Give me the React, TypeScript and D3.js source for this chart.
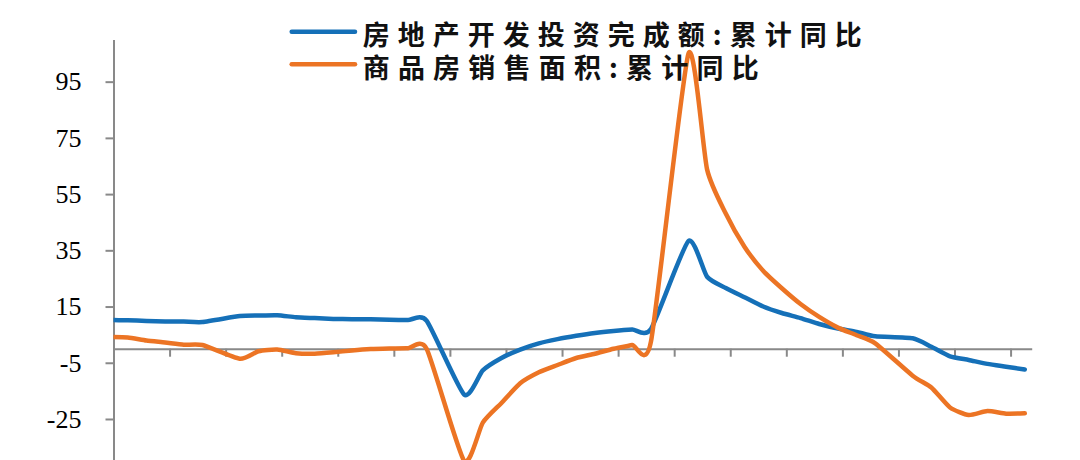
import React, { useEffect, useRef } from 'react';
import * as d3 from 'd3';

// monthly cumulative data (Jan is merged into Feb, so no January points)
const months = [
  '2018-07', '2018-08', '2018-09', '2018-10', '2018-11', '2018-12',
  '2019-02', '2019-03', '2019-04', '2019-05', '2019-06', '2019-07', '2019-08', '2019-09', '2019-10', '2019-11', '2019-12',
  '2020-02', '2020-03', '2020-04', '2020-05', '2020-06', '2020-07', '2020-08', '2020-09', '2020-10', '2020-11', '2020-12',
  '2021-02', '2021-03', '2021-04', '2021-05', '2021-06', '2021-07', '2021-08', '2021-09', '2021-10', '2021-11', '2021-12',
  '2022-02', '2022-03', '2022-04', '2022-05', '2022-06', '2022-07', '2022-08',
];

const investmentYoY = [
  10.2, 10.1, 9.9, 9.7, 9.7, 9.5,
  11.6, 11.8, 11.9, 11.2, 10.9, 10.6, 10.5, 10.5, 10.3, 10.2, 9.9,
  -16.3, -7.7, -3.3, -0.3, 1.9, 3.4, 4.6, 5.6, 6.3, 6.8, 7.0,
  38.3, 25.6, 21.6, 18.3, 15.0, 12.7, 10.9, 8.8, 7.2, 6.0, 4.4,
  3.7, 0.7, -2.7, -4.0, -5.4, -6.4, -7.4,
];

const salesAreaYoY = [
  4.2, 4.0, 2.9, 2.2, 1.4, 1.3,
  -3.6, -0.9, -0.3, -1.6, -1.8, -1.3, -0.6, -0.1, 0.1, 0.2, -0.1,
  -39.9, -26.3, -19.3, -12.3, -8.4, -5.8, -3.3, -1.8, 0.0, 1.3, 2.6,
  104.9, 63.8, 48.1, 36.3, 27.7, 21.5, 15.9, 11.3, 7.5, 4.8, 1.9,
  -9.6, -13.8, -20.9, -23.6, -22.2, -23.1, -23.0,
];

const yTicks = [-25, -5, 15, 35, 55, 75, 95];
const seriesNames = ['房地产开发投资完成额:累计同比', '商品房销售面积:累计同比'];
const seriesColors = ['#1570B8', '#EC7424'];

const parseMonth = d3.timeParse('%Y-%m');
const monthIndex = (m: string) => d3.timeMonth.count(new Date(2018, 0, 1), parseMonth(m) as Date);

export default function App() {
  const ref = useRef<SVGSVGElement>(null);

  useEffect(() => {
    const width = 1080;
    const height = 460;
    const svg = d3.select(ref.current);
    svg.selectAll('*').remove();

    const tMin = 6.24;
    const tMax = 55.37;
    const x = d3.scaleLinear().domain([tMin, tMax]).range([113.5, 1031.7]);
    const y = d3.scaleLinear().domain([-45, 110]).range([475.2, 39.5]);

    const axisColor = '#898989';

    // clip so the lines start at the value axis
    svg
      .append('defs')
      .append('clipPath')
      .attr('id', 'plot-clip')
      .append('rect')
      .attr('x', x(tMin))
      .attr('y', 0)
      .attr('width', width - x(tMin))
      .attr('height', height);

    // y axis
    const yAxis = svg
      .append('g')
      .attr('transform', `translate(${x(tMin)},0)`)
      .call(
        d3
          .axisLeft(y)
          .tickValues(yTicks)
          .tickSize(8)
          .tickSizeOuter(0)
          .tickPadding(24)
          .tickFormat((d) => String(d))
      );
    yAxis.select('.domain').attr('stroke', axisColor).attr('stroke-width', 2);
    yAxis.selectAll('.tick line').attr('stroke', axisColor).attr('stroke-width', 2);
    yAxis
      .selectAll('.tick text')
      .attr('fill', '#000')
      .style('font-family', '"Liberation Serif", "Times New Roman", serif')
      .style('font-size', '26px');

    // x axis at zero, ticks every 3 months
    const xTicks = d3.range(0, 17).map((k) => tMin + 3 * k);
    const xAxis = svg
      .append('g')
      .attr('transform', `translate(0,${y(0)})`)
      .call(
        d3
          .axisBottom(x)
          .tickValues(xTicks)
          .tickSize(8)
          .tickSizeOuter(0)
          .tickFormat(() => '')
      );
    xAxis.select('.domain').attr('stroke', axisColor).attr('stroke-width', 2);
    xAxis.selectAll('.tick line').attr('stroke', axisColor).attr('stroke-width', 2);

    // smoothed lines, orange drawn last (on top)
    const series = [investmentYoY, salesAreaYoY];
    const line = d3
      .line<[number, number]>()
      .x((d) => x(d[0]))
      .y((d) => y(d[1]))
      .curve(d3.curveCardinal.tension(0.4));

    series.forEach((values, i) => {
      const pts: [number, number][] = months.map((m, j) => [monthIndex(m), values[j]]);
      svg
        .append('path')
        .datum(pts)
        .attr('clip-path', 'url(#plot-clip)')
        .attr('fill', 'none')
        .attr('stroke', seriesColors[i])
        .attr('stroke-width', 4.5)
        .attr('stroke-linejoin', 'round')
        .attr('stroke-linecap', 'round')
        .attr('d', line);
    });

    // legend
    const legendY = [31.7, 64.3];
    const legendLen = [499, 396];
    seriesNames.forEach((name, i) => {
      svg
        .append('line')
        .attr('x1', 291.7)
        .attr('x2', 355)
        .attr('y1', legendY[i])
        .attr('y2', legendY[i])
        .attr('stroke', seriesColors[i])
        .attr('stroke-width', 4.5)
        .attr('stroke-linecap', 'round');
      svg
        .append('text')
        .attr('x', 362.7)
        .attr('y', legendY[i] + 2)
        .attr('dominant-baseline', 'central')
        .attr('textLength', legendLen[i])
        .attr('lengthAdjust', 'spacing')
        .attr('fill', '#111')
        .style('font-family', '"Noto Sans CJK SC", sans-serif')
        .style('font-weight', 700)
        .style('font-size', '27px')
        .text(name);
    });
  }, []);

  return (
    <svg
      ref={ref}
      width={1080}
      height={460}
      style={{ position: 'absolute', left: 0, top: 0, background: '#fff' }}
    />
  );
}
